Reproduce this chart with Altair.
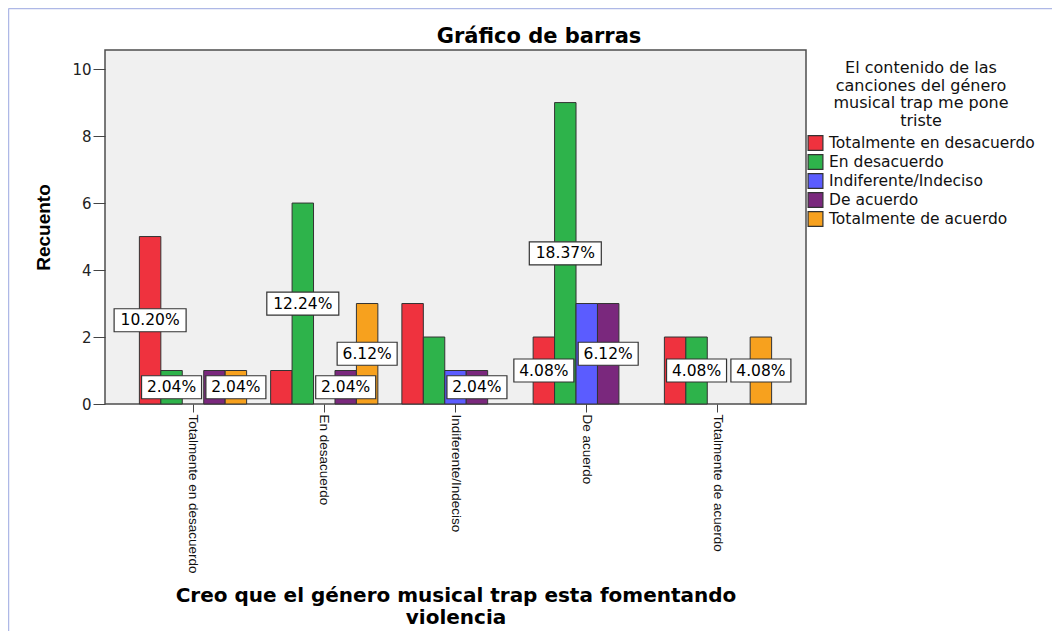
import altair as alt
import pandas as pd

# ---------------- data ----------------
groups = ["Totalmente en desacuerdo", "En desacuerdo", "Indiferente/Indeciso",
          "De acuerdo", "Totalmente de acuerdo"]
series = ["Totalmente en desacuerdo", "En desacuerdo", "Indiferente/Indeciso",
          "De acuerdo", "Totalmente de acuerdo"]
colors = ["#EF323E", "#2EB34B", "#5B5CFF", "#7A287D", "#F7A11E"]

# counts per x-group for each legend series
cnt_tot_desacuerdo = [5, 1, 3, 2, 2]
cnt_desacuerdo = [1, 6, 2, 9, 2]
cnt_indiferente = [0, 0, 1, 3, 0]
cnt_acuerdo = [1, 1, 1, 3, 0]
cnt_tot_acuerdo = [1, 3, 0, 0, 2]

# which percentage labels are visible in the chart
show_tot_desacuerdo = [1, 0, 0, 1, 0]
show_desacuerdo = [1, 1, 0, 1, 1]
show_indiferente = [0, 0, 0, 0, 0]
show_acuerdo = [0, 1, 1, 1, 0]
show_tot_acuerdo = [1, 1, 0, 0, 1]

counts = [cnt_tot_desacuerdo, cnt_desacuerdo, cnt_indiferente, cnt_acuerdo, cnt_tot_acuerdo]
shows = [show_tot_desacuerdo, show_desacuerdo, show_indiferente, show_acuerdo, show_tot_acuerdo]
total = sum(sum(c) for c in counts)

rows = []
for gi, g in enumerate(groups):
    for si, s in enumerate(series):
        v = counts[si][gi]
        lab = f"{v / total * 100:.2f}%"
        rows.append({
            "grupo": g, "serie": s, "count": v, "mid": v / 2,
            "lab": lab, "show": shows[si][gi],
            "box": "l" if len(lab) > 5 else "s",
        })
df = pd.DataFrame(rows)

# ---------------- encodings ----------------
x_enc = alt.X(
    "grupo:N",
    scale=alt.Scale(domain=groups, paddingInner=0.183, paddingOuter=0.262),
    axis=alt.Axis(
        title=["Creo que el género musical trap esta fomentando", "violencia"],
        titleFont="DejaVu Sans", titleFontWeight="bold", titleFontSize=20,
        titleLineHeight=22, titleColor="black", titleBaseline="alphabetic",
        titleY=197,
        labelAngle=90, labelAlign="left", labelBaseline="middle",
        labelFont="Liberation Sans", labelFontSize=13.5, labelColor="#111",
        labelPadding=2, labelLimit=400, tickSize=8, tickColor="#444",
        domain=False, grid=False,
    ),
)
x_off = alt.XOffset("serie:N", scale=alt.Scale(domain=series))
y_scale = alt.Scale(domain=[0, 10.57], nice=False, zero=True)
y_axis = alt.Axis(
    title="Recuento", values=[0, 2, 4, 6, 8, 10],
    titleFont="Liberation Sans", titleFontWeight="bold", titleFontSize=19,
    titleColor="black", titleAngle=270, titleBaseline="alphabetic", titleX=-56,
    labelFont="DejaVu Sans", labelFontSize=15, labelColor="#222",
    labelPadding=2, tickSize=12, tickColor="#444", domain=False, grid=False,
)

bars = alt.Chart(df).transform_filter("datum.count > 0").mark_bar(
    stroke="#333", strokeWidth=1
).encode(
    x=x_enc,
    xOffset=x_off,
    y=alt.Y("count:Q", scale=y_scale, axis=y_axis),
    color=alt.Color(
        "serie:N",
        scale=alt.Scale(domain=series, range=colors),
        legend=alt.Legend(
            title=["El contenido de las", "canciones del género",
                   "musical trap me pone", "triste"],
            orient="none", legendX=702, legendY=10, padding=0,
            titleFont="DejaVu Sans", titleFontSize=16, titleFontWeight="normal",
            titleColor="#111", titleAlign="center", titleAnchor="middle",
            titleLineHeight=17.5, titleBaseline="top", titlePadding=6,
            titleLimit=400,
            labelFont="DejaVu Sans", labelFontSize=15.5, labelColor="#111",
            labelOffset=5, labelLimit=400,
            symbolType="square", symbolSize=220, symbolStrokeColor="#333",
            symbolStrokeWidth=1.2, symbolOpacity=1, rowPadding=-7,
        ),
    ),
)

box_small = "M-1,-0.3833L1,-0.3833L1,0.3833L-1,0.3833Z"
box_large = "M-1.2,-0.3833L1.2,-0.3833L1.2,0.3833L-1.2,0.3833Z"

lab_base = alt.Chart(df).transform_filter("datum.show == 1")
boxes = lab_base.mark_point(
    filled=True, fill="white", stroke="#333", strokeWidth=1.2, size=3600, opacity=1
).encode(
    x=x_enc,
    xOffset=x_off,
    y=alt.Y("mid:Q", scale=y_scale, axis=y_axis),
    shape=alt.Shape("box:N", scale=alt.Scale(domain=["s", "l"], range=[box_small, box_large]),
                    legend=None),
)
texts = lab_base.mark_text(
    font="DejaVu Sans", fontSize=15.5, color="black", align="center", baseline="middle"
).encode(
    x=x_enc,
    xOffset=x_off,
    y=alt.Y("mid:Q", scale=y_scale, axis=y_axis),
    text="lab:N",
)

one = pd.DataFrame({"k": [0]})
frame_top = alt.Chart(one).mark_rule(color="#AEB8E6", strokeWidth=1.5).encode(
    x=alt.value(-96.5), x2=alt.value(947), y=alt.value(-41.5)
)
frame_left = alt.Chart(one).mark_rule(color="#AEB8E6", strokeWidth=1.5).encode(
    x=alt.value(-96.5), y=alt.value(-41.5), y2=alt.value(581)
)
title = alt.Chart(one).mark_text(
    text="Gráfico de barras", font="DejaVu Sans", fontWeight="bold", fontSize=21,
    align="center", baseline="alphabetic", color="black"
).encode(x=alt.value(434), y=alt.value(-7))

chart = alt.layer(bars, boxes, texts, frame_top, frame_left, title).properties(
    width=701, height=354,
    autosize=alt.AutoSizeParams(type="none"),
    padding={"left": 97, "top": 42, "right": 246, "bottom": 227},
    background="white",
).configure_view(
    fill="#F0F0F0", stroke="#4d4d4d", strokeWidth=1.5
)

chart.save("out.html", embed_options={"renderer": "svg", "actions": False})
